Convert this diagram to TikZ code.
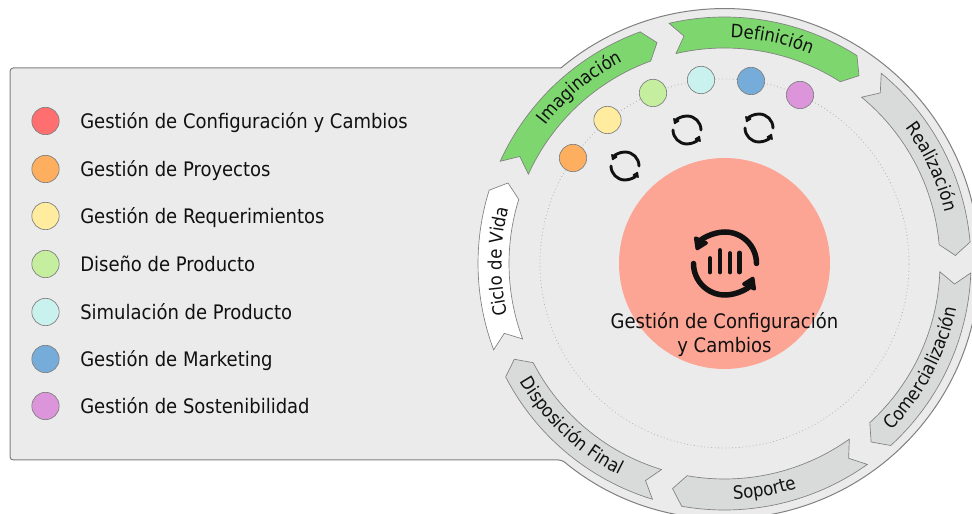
\documentclass[tikz,border=0pt]{standalone}
\usepackage{fontspec}
\setmainfont{DejaVu Sans Condensed}
\usetikzlibrary{decorations.text,arrows.meta}
\definecolor{panelgray}{HTML}{EBEBEB}
\definecolor{edgegray}{HTML}{808080}
\definecolor{ribgreen}{HTML}{7ED76E}
\definecolor{ribgray}{HTML}{D9DBDA}
\definecolor{corepink}{HTML}{FDA594}
\definecolor{cred}{HTML}{FF6F6F}
\definecolor{corange}{HTML}{FDAE5F}
\definecolor{cyellow}{HTML}{FFEC9F}
\definecolor{cgreen}{HTML}{C5EF9F}
\definecolor{ccyan}{HTML}{C9F1EE}
\definecolor{cblue}{HTML}{76ACD9}
\definecolor{cpurple}{HTML}{DC95DB}
\definecolor{inkblack}{HTML}{111111}
\newcommand{\labelfont}{\fontsize{15pt}{18pt}\selectfont}
\newcommand{\ribbonfont}{\fontsize{13.8pt}{18pt}\selectfont}
\tikzset{
  dotbase/.style={circle,draw=edgegray,line width=0.5pt,minimum size=20.5pt,inner sep=0pt},
  legendtext/.style={anchor=base west,inner sep=0pt,text=inkblack,font=\labelfont},
  ribbonshape/.style={draw=edgegray,line width=0.5pt},
}
% start, end, tip, notch, fill
\newcommand{\ribbon}[5]{%
  \path[ribbonshape,fill=#5] (#1:246.5) arc[start angle=#1,end angle=#2,radius=246.5]
    -- (#3:231) -- (#2:215.5) arc[start angle=#2,end angle=#1,radius=215.5]
    -- (#4:231) -- cycle;}
% first angle, last angle, radius, text
\newcommand{\arclabel}[4]{%
  \path[decorate,decoration={text along path,text align=center,
    text={|\ribbonfont\color{inkblack}|#4}}]
    (#1:#3) arc[start angle=#1,end angle=#2,radius=#3];}
% x, y, radius, line width, head length, head width
\newcommand{\cycleicon}[6]{%
  \begin{scope}[shift={(#1,#2)},line width=#4*0.75pt,inkblack,
      arr/.style={-{Triangle[length=#5*0.75pt,width=#6*0.75pt,round=false]}}]
    \draw[arr,line cap=round] (0:#3) arc[start angle=0,end angle=155,radius=#3];
    \draw[arr,line cap=round] (180:#3) arc[start angle=180,end angle=335,radius=#3];
  \end{scope}}
\begin{document}
\begin{tikzpicture}[x=0.75pt,y=0.75pt]
\useasboundingbox (0,0) rectangle (972,514);
\clip (0,0) rectangle (972,514);
% panel merged with wheel
\path[draw=edgegray,fill=panelgray,line width=0.75pt]
  (724.5,250.5) ++(129.9:255) [rounded corners=2.5pt] -- (10,446) -- (10,54) -- (562,54)
  [sharp corners] arc[start angle=230.4,end angle=489.9,radius=255] -- cycle;
\begin{scope}[shift={(724.5,250.5)}]
  \draw[edgegray!60,line width=0.6pt,dotted] (0,0) circle[radius=184.5];
  \ribbon{155.5}{110}{107}{152.4}{ribgreen}
  \ribbon{103}{57.5}{54.4}{100.1}{ribgreen}
  \ribbon{50.5}{5}{2}{47.6}{ribgray}
  \ribbon{-2.2}{-47.6}{-50.6}{-5.1}{ribgray}
  \ribbon{-54.6}{-100}{-103}{-57.5}{ribgray}
  \ribbon{-107}{-152.6}{-155.5}{-110}{ribgray}
  \ribbon{200.5}{162.7}{159.6}{197.6}{white}
  \arclabel{169}{90}{226}{Imaginación}
  \arclabel{118}{38}{226}{Definición}
  \arclabel{64}{-14}{226}{Realización}
  \arclabel{-68}{12}{236}{Comercialización}
  \arclabel{-120}{-40}{236}{Soporte}
  \arclabel{-173.2}{-93.2}{236}{Disposición Final}
  \arclabel{219}{140}{223}{Ciclo de Vida}
\end{scope}
\node[circle,fill=corepink,minimum size=158.25pt,inner sep=0pt] (core) at (724.5,250.5) {};
\node[dotbase,fill=corange] (w1) at (573,356) {};
\node[dotbase,fill=cyellow] (w2) at (607.5,394) {};
\node[dotbase,fill=cgreen] (w3) at (653,421) {};
\node[dotbase,fill=ccyan] (w4) at (701,434) {};
\node[dotbase,fill=cblue] (w5) at (751,433) {};
\node[dotbase,fill=cpurple] (w6) at (800,419) {};
\cycleicon{625}{348}{14}{2.9}{6}{7.5}
\cycleicon{687}{384}{14}{2.9}{6}{7.5}
\cycleicon{759}{386}{14}{2.9}{6}{7.5}
\cycleicon{725}{250.5}{31.5}{5.5}{14}{17}
\foreach \xx/\yy in {710/255.5,720/263.5,730/260.5,739.5/261}
  \draw[inkblack,line width=3.6pt,line cap=round] (\xx,242) -- (\xx,\yy);
\node[align=center,inner sep=0pt,text=inkblack,font=\labelfont] (coretext) at (724.5,179.5) {Gestión de Configuración\\y Cambios};
\foreach \nm/\yy/\cc/\tt in {a/393/cred/Gestión de Configuración y Cambios,
   b/345/corange/Gestión de Proyectos,
   c/298/cyellow/Gestión de Requerimientos,
   d/250/cgreen/Diseño de Producto,
   e/202/ccyan/Simulación de Producto,
   f/155/cblue/Gestión de Marketing,
   g/108/cpurple/Gestión de Sostenibilidad}{
  \node[dotbase,fill=\cc] (leg\nm) at (45.5,\yy) {};
  \node[legendtext] (txt\nm) at (80,\yy-7.3) {\tt};
}
\end{tikzpicture}
\end{document}
